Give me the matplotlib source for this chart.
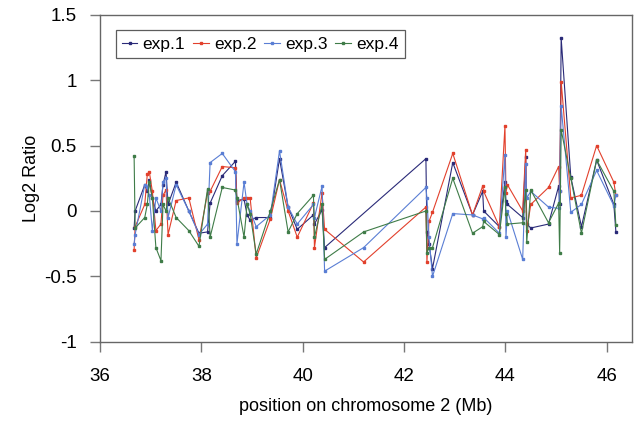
import numpy as np
import matplotlib
matplotlib.use("Agg")
import matplotlib.pyplot as plt

# probe positions on chromosome 2 (Mb)
position = [36.67, 36.69, 36.88, 36.93, 36.97, 37.03, 37.10, 37.20, 37.24, 37.30,
            37.34, 37.50, 37.75, 37.95, 38.12, 38.17, 38.41, 38.67, 38.70, 38.84,
            38.90, 38.96, 39.08, 39.36, 39.54, 39.71, 39.89, 40.21, 40.23, 40.38,
            40.43, 41.20, 42.43, 42.45, 42.49, 42.56, 42.96, 43.35, 43.55, 43.57,
            43.88, 43.99, 44.01, 44.04, 44.34, 44.40, 44.42, 44.50, 44.85, 45.05,
            45.07, 45.10, 45.29, 45.50, 45.80, 46.14, 46.18]

# log2 ratios, None = no value for that probe
exp1 = [-0.13, 0.00, 0.20, 0.15, 0.24, 0.10, 0.00, 0.05, 0.20, 0.30,
        0.05, 0.22, 0.00, -0.17, -0.16, 0.06, 0.27, 0.38, 0.08, 0.09,
        -0.03, -0.07, -0.05, -0.05, 0.40, 0.03, -0.14, -0.03, -0.10, 0.01,
        -0.28, None, 0.40, -0.16, -0.25, -0.44, 0.37, -0.03, 0.15, 0.00,
        -0.12, 0.22, 0.08, 0.05, -0.05, 0.41, -0.10, -0.13, -0.10, 0.19,
        0.05, 1.32, 0.26, -0.12, 0.39, 0.05, -0.16]
exp2 = [-0.30, -0.12, 0.05, 0.28, 0.30, 0.15, -0.15, -0.10, 0.12, 0.16,
        -0.18, 0.08, 0.10, -0.22, 0.14, 0.15, 0.34, 0.33, 0.06, 0.10,
        0.10, 0.10, -0.36, -0.06, 0.24, 0.00, -0.20, 0.06, -0.28, 0.14,
        -0.14, -0.39, 0.03, -0.39, -0.08, -0.01, 0.44, -0.03, 0.19, 0.15,
        -0.12, 0.65, 0.14, 0.20, 0.00, 0.47, -0.15, 0.05, 0.18, 0.34,
        0.15, 0.99, 0.10, 0.12, 0.50, 0.22, 0.12]
exp3 = [-0.25, -0.18, 0.20, 0.18, 0.12, -0.15, 0.10, 0.00, 0.22, 0.25,
        -0.05, 0.20, 0.00, -0.18, -0.10, 0.37, 0.44, 0.30, -0.25, 0.22,
        0.05, 0.00, -0.12, -0.03, 0.46, 0.03, -0.10, 0.05, -0.05, 0.19,
        -0.46, -0.28, 0.18, 0.10, -0.20, -0.50, -0.02, -0.03, -0.06, -0.05,
        -0.17, 0.43, -0.20, 0.00, -0.37, 0.36, 0.10, 0.15, 0.03, 0.02,
        0.15, 0.80, -0.01, 0.05, 0.31, 0.04, 0.12]
exp4 = [0.42, -0.13, -0.05, 0.05, 0.22, 0.10, -0.28, -0.38, 0.05, 0.00,
        0.10, -0.05, -0.15, -0.27, 0.17, -0.20, 0.18, 0.16, 0.10, -0.20,
        0.05, -0.02, -0.33, 0.00, 0.24, -0.16, -0.02, 0.12, -0.20, 0.05,
        -0.37, -0.16, 0.00, -0.32, -0.28, -0.28, 0.25, -0.17, -0.12, -0.08,
        -0.18, 0.18, -0.02, -0.10, -0.09, 0.16, -0.24, 0.16, -0.09, 0.06,
        -0.32, 0.62, 0.25, -0.17, 0.39, 0.15, -0.11]

labels = ["exp.1", "exp.2", "exp.3", "exp.4"]
colors = ["#2a2a78", "#e2402c", "#5a7ed4", "#3f7c48"]

plt.rcParams['font.family'] = ['Liberation Sans', 'DejaVu Sans']

fig = plt.figure(figsize=(6.34, 4.23), dpi=100)
ax = fig.add_axes([0.158, 0.192, 0.839, 0.773])

x_all = np.array(position)
for series, lab, col in zip([exp1, exp2, exp3, exp4], labels, colors):
    y = np.array([np.nan if v is None else v for v in series])
    ok = ~np.isnan(y)
    ax.plot(x_all[ok], y[ok], color=col, lw=0.8, marker='s', ms=1.8,
            mec=col, mfc=col, label=lab)

ax.set_xlim(36, 46.5)
ax.set_ylim(-1, 1.5)
ax.set_xticks([36, 38, 40, 42, 44, 46])
ax.set_yticks([-1, -0.5, 0, 0.5, 1, 1.5])
ax.set_yticklabels(["-1", "-0.5", "0", "0.5", "1", "1.5"])
ax.tick_params(direction='out', length=7, width=1, color='#777777',
               labelsize=13.5)
ax.tick_params(axis='x', pad=12)
ax.tick_params(axis='y', pad=10)
for s in ax.spines.values():
    s.set_color('#666666')
    s.set_linewidth(1)

ax.set_xlabel("position on chromosome 2 (Mb)", fontsize=13, labelpad=9)
ax.set_ylabel("Log2 Ratio", fontsize=13, labelpad=3)

leg = ax.legend(loc='upper left', ncol=4, frameon=True, fancybox=False,
                fontsize=12.5, handlelength=0.9, handletextpad=0.3,
                columnspacing=0.45, borderpad=0.35, borderaxespad=0.9)
leg.get_frame().set_edgecolor('#333333')
leg.get_frame().set_linewidth(0.9)

fig.savefig("out.png", dpi=100)
